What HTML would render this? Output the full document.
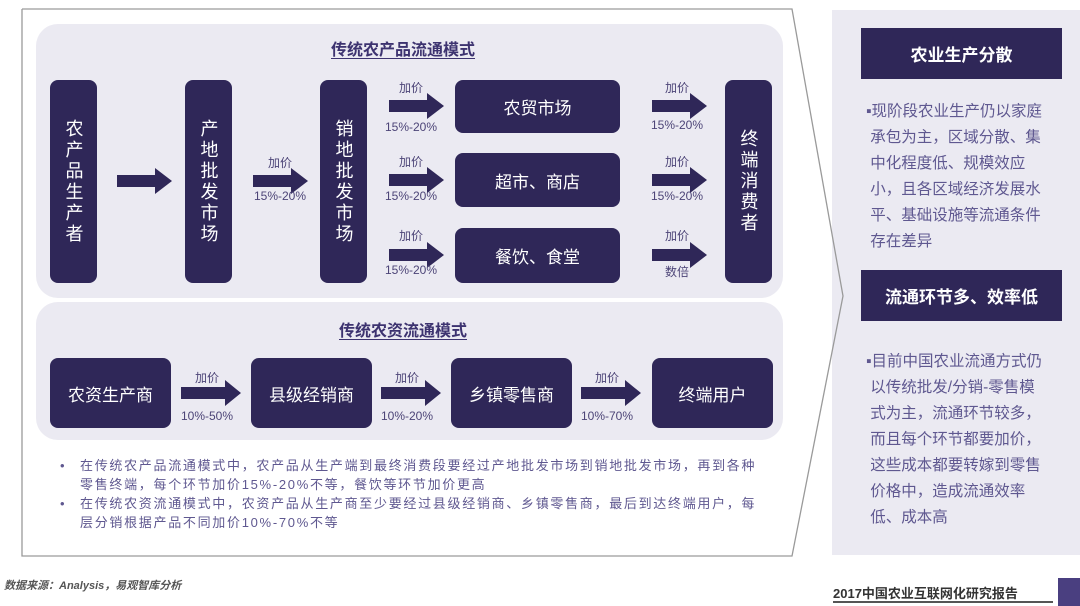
<!DOCTYPE html>
<html><head><meta charset="utf-8"><style>
*{margin:0;padding:0;box-sizing:border-box}
body{width:1080px;height:606px;background:#fff;position:relative;overflow:hidden;font-family:"Liberation Sans","Noto Sans CJK SC",sans-serif}
.a{position:absolute}
.panel{position:absolute;background:#ebeaf2;border-radius:22px}
.box{position:absolute;background:#2f2758;color:#fff;border-radius:8px;display:flex;align-items:center;justify-content:center;font-size:17px}
.v{writing-mode:vertical-rl;letter-spacing:3px;font-size:18px}
.title{position:absolute;color:#3d3370;font-weight:bold;font-size:16px;text-decoration:underline;text-underline-offset:3px}
.lab{position:absolute;color:#4c4477;font-size:12px;text-align:center;width:70px}
.rtxt{position:absolute;color:#5f5890;font-size:15.5px;line-height:26px;left:866px;width:212px}
.hdr{position:absolute;left:861px;width:201px;height:51px;background:#2f2758;color:#fff;font-weight:bold;font-size:17px;display:flex;align-items:center;justify-content:center}
.bl{position:relative;padding-left:20px;white-space:nowrap;letter-spacing:1.7px}
.bl:before{content:"•";position:absolute;left:0}
</style></head><body>
<div class="a" style="left:832px;top:10px;width:248px;height:545px;background:#ebeaf2"></div>
<svg class="a" style="left:0;top:0" width="1080" height="606">
<polyline points="22,9 792,9 843,296 792,556 22,556 22,9" fill="none" stroke="#9a9a9a" stroke-width="1.3"/>
</svg>
<div class="panel" style="left:36px;top:24px;width:747px;height:274px"></div>
<div class="panel" style="left:36px;top:302px;width:747px;height:138px"></div>
<div class="title" style="left:331px;top:36px">传统农产品流通模式</div>
<div class="box v" style="left:50px;top:80px;width:47px;height:203px">农产品生产者</div>
<div class="box v" style="left:185px;top:80px;width:47px;height:203px">产地批发市场</div>
<div class="box v" style="left:320px;top:80px;width:47px;height:203px">销地批发市场</div>
<div class="box" style="left:455px;top:80px;width:165px;height:53px">农贸市场</div>
<div class="box" style="left:455px;top:153px;width:165px;height:54px">超市、商店</div>
<div class="box" style="left:455px;top:228px;width:165px;height:55px">餐饮、食堂</div>
<div class="box v" style="left:725px;top:80px;width:47px;height:203px">终端消费者</div>
<svg class="a" style="left:0;top:0" width="1080" height="606">
<defs><path id="ar" d="M0,-6 H38 V-13 L55,0 L38,13 V6 H0 Z" fill="#2f2758"/><path id="ar2" d="M0,-6 H44 V-13 L60,0 L44,13 V6 H0 Z" fill="#2f2758"/></defs>
<use href="#ar" x="117" y="181"/><use href="#ar" x="253" y="181"/>
<use href="#ar" x="389" y="106"/><use href="#ar" x="389" y="180"/><use href="#ar" x="389" y="255"/>
<use href="#ar" x="652" y="106"/><use href="#ar" x="652" y="180"/><use href="#ar" x="652" y="255"/>
<use href="#ar2" x="181" y="393"/><use href="#ar2" x="381" y="393"/><use href="#ar2" x="581" y="393"/>
</svg>
<div class="lab" style="left:245px;top:154px">加价</div><div class="lab" style="left:245px;top:189px">15%-20%</div>
<div class="lab" style="left:376px;top:79px">加价</div><div class="lab" style="left:376px;top:120px">15%-20%</div>
<div class="lab" style="left:376px;top:153px">加价</div><div class="lab" style="left:376px;top:189px">15%-20%</div>
<div class="lab" style="left:376px;top:227px">加价</div><div class="lab" style="left:376px;top:263px">15%-20%</div>
<div class="lab" style="left:642px;top:79px">加价</div><div class="lab" style="left:642px;top:118px">15%-20%</div>
<div class="lab" style="left:642px;top:153px">加价</div><div class="lab" style="left:642px;top:189px">15%-20%</div>
<div class="lab" style="left:642px;top:227px">加价</div><div class="lab" style="left:642px;top:263px">数倍</div>
<div class="title" style="left:339px;top:317px">传统农资流通模式</div>
<div class="box" style="left:50px;top:358px;width:121px;height:70px">农资生产商</div>
<div class="box" style="left:251px;top:358px;width:121px;height:70px">县级经销商</div>
<div class="box" style="left:451px;top:358px;width:121px;height:70px">乡镇零售商</div>
<div class="box" style="left:652px;top:358px;width:121px;height:70px">终端用户</div>
<div class="lab" style="left:172px;top:369px">加价</div><div class="lab" style="left:172px;top:409px">10%-50%</div>
<div class="lab" style="left:372px;top:369px">加价</div><div class="lab" style="left:372px;top:409px">10%-20%</div>
<div class="lab" style="left:572px;top:369px">加价</div><div class="lab" style="left:572px;top:409px">10%-70%</div>
<div class="a" style="left:60px;top:456px;width:720px;color:#5f5890;font-size:13px;line-height:19px">
<div class="bl">在传统农产品流通模式中，农产品从生产端到最终消费段要经过产地批发市场到销地批发市场，再到各种<br>零售终端，每个环节加价15%-20%不等，餐饮等环节加价更高</div>
<div class="bl">在传统农资流通模式中，农资产品从生产商至少要经过县级经销商、乡镇零售商，最后到达终端用户，每<br>层分销根据产品不同加价10%-70%不等</div>
</div>
<div class="hdr" style="top:28px">农业生产分散</div>
<div class="rtxt" style="top:99px">▪现阶段农业生产仍以家庭<br>&nbsp;承包为主，区域分散、集<br>&nbsp;中化程度低、规模效应<br>&nbsp;小，且各区域经济发展水<br>&nbsp;平、基础设施等流通条件<br>&nbsp;存在差异</div>
<div class="hdr" style="top:270px">流通环节多、效率低</div>
<div class="rtxt" style="top:349px">▪目前中国农业流通方式仍<br>&nbsp;以传统批发/分销-零售模<br>&nbsp;式为主，流通环节较多，<br>&nbsp;而且每个环节都要加价，<br>&nbsp;这些成本都要转嫁到零售<br>&nbsp;价格中，造成流通效率<br>&nbsp;低、成本高</div>
<div class="a" style="left:4px;top:577px;font-size:11px;font-style:italic;font-weight:bold;color:#555">数据来源：Analysis，易观智库分析</div>
<div class="a" style="left:833px;top:583px;font-size:13px;font-weight:bold;color:#333">2017中国农业互联网化研究报告</div>
<div class="a" style="left:833px;top:601px;width:220px;height:2px;background:#555"></div>
<div class="a" style="left:1058px;top:578px;width:22px;height:28px;background:#4a3f80"></div>
</body></html>
